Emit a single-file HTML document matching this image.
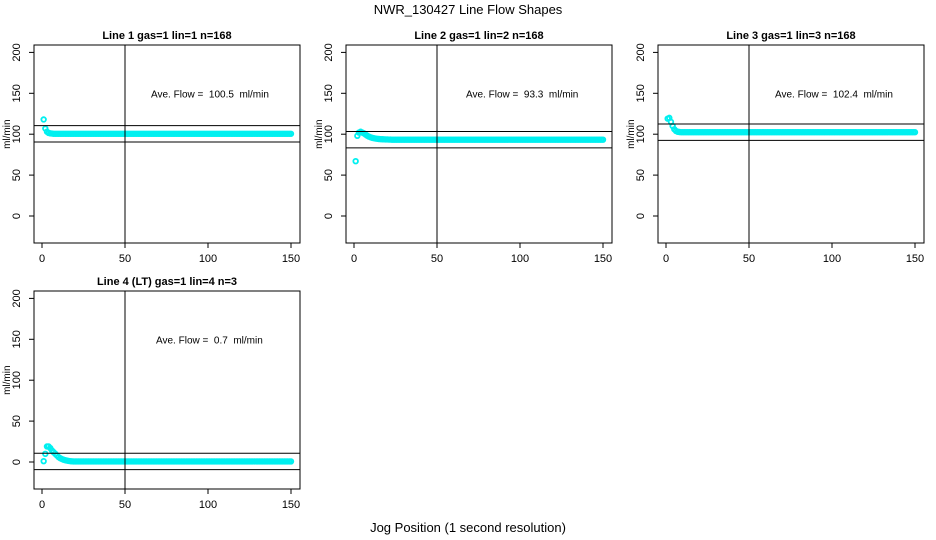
<!DOCTYPE html>
<html><head><meta charset="utf-8"><style>
html,body{margin:0;padding:0;background:#fff;width:936px;height:540px;overflow:hidden}
svg text{font-family:"Liberation Sans",Arial,sans-serif;fill:#000}
</style></head><body>
<svg id="s" width="936" height="540" xmlns="http://www.w3.org/2000/svg">
<text x="468" y="14" font-size="13" text-anchor="middle">NWR_130427  Line Flow Shapes</text>
<text x="468" y="532" font-size="13" text-anchor="middle">Jog Position (1 second resolution)</text>
</svg>
<script>
var s=document.getElementById('s'),NS='http://www.w3.org/2000/svg';
function el(t,a,txt){var e=document.createElementNS(NS,t);for(var k in a)e.setAttribute(k,a[k]);if(txt!==undefined)e.textContent=txt;s.appendChild(e);return e;}
function panel(ox,oy,title,avg,avgTxt,txtX,early){
  var L=34+ox,R=300+ox,T=45+oy,B=243+oy;
  var X=function(v){return 42+ox+v*249/150;},Y=function(v){return 216+oy-v*0.818;};
  el('rect',{x:L,y:T,width:R-L,height:B-T,fill:'none',stroke:'#000','stroke-width':1});
  el('text',{x:(L+R)/2,y:T-6,'font-size':11,'font-weight':'bold','text-anchor':'middle'},title);
  [0,50,100,150].forEach(function(v){var x=X(v);el('line',{x1:x,y1:B,x2:x,y2:B+5,stroke:'#000'});
    el('text',{x:x,y:B+19,'font-size':11,'text-anchor':'middle'},v);});
  [0,50,100,150,200].forEach(function(v){var y=Y(v);el('line',{x1:L-5,y1:y,x2:L,y2:y,stroke:'#000'});
    el('text',{x:L-14,y:y,'font-size':11,'text-anchor':'middle',transform:'rotate(-90 '+(L-14)+' '+y+')'},v);});
  el('text',{x:10+ox,y:Y(100),'font-size':10,'text-anchor':'middle',transform:'rotate(-90 '+(10+ox)+' '+Y(100)+')'},'ml/min');
  el('text',{x:txtX,y:Y(150)+4,'font-size':10},avgTxt.replace(/ /g,'\u00a0'));
  var vals=early.slice();
  for(var i=vals.length+1;i<=150;i++)vals.push(null);
  for(var i=1;i<=150;i++){var v=vals[i-1];if(v===null)v=avg;
    el('circle',{cx:X(i),cy:Y(v),r:2.3,fill:'none',stroke:'#00f0f0','stroke-width':1.8});}
  el('line',{x1:L,y1:Y(avg+10),x2:R,y2:Y(avg+10),stroke:'#000'});
  el('line',{x1:L,y1:Y(avg-10),x2:R,y2:Y(avg-10),stroke:'#000'});
  el('line',{x1:X(50),y1:T,x2:X(50),y2:B,stroke:'#000'});
}
panel(0,0,'Line 1 gas=1 lin=1 n=168',100.5,'Ave. Flow =  100.5  ml/min',151,[118,107,103,101.5,101,100.8]);
var e2=[67,98,102,103,102,101];for(var i=7;i<=22;i++)e2.push(93.3+8*Math.exp(-(i-6)/4));
panel(312,0,'Line 2 gas=1 lin=2 n=168',93.3,'Ave. Flow =  93.3  ml/min',466,e2);
panel(624,0,'Line 3 gas=1 lin=3 n=168',102.4,'Ave. Flow =  102.4  ml/min',775,[119,120,115,110,106,104,103,102.7]);
var e4=[1,10,19,19,17,14,12,10,8,6];for(var i=11;i<=26;i++)e4.push(6*Math.exp(-(i-10)/4));
panel(0,246,'Line 4 (LT) gas=1 lin=4 n=3',0.7,'Ave. Flow =  0.7  ml/min',156,e4.map(function(v,i){return i>=15?Math.max(v,0.7):v;}));
</script>
</body></html>
